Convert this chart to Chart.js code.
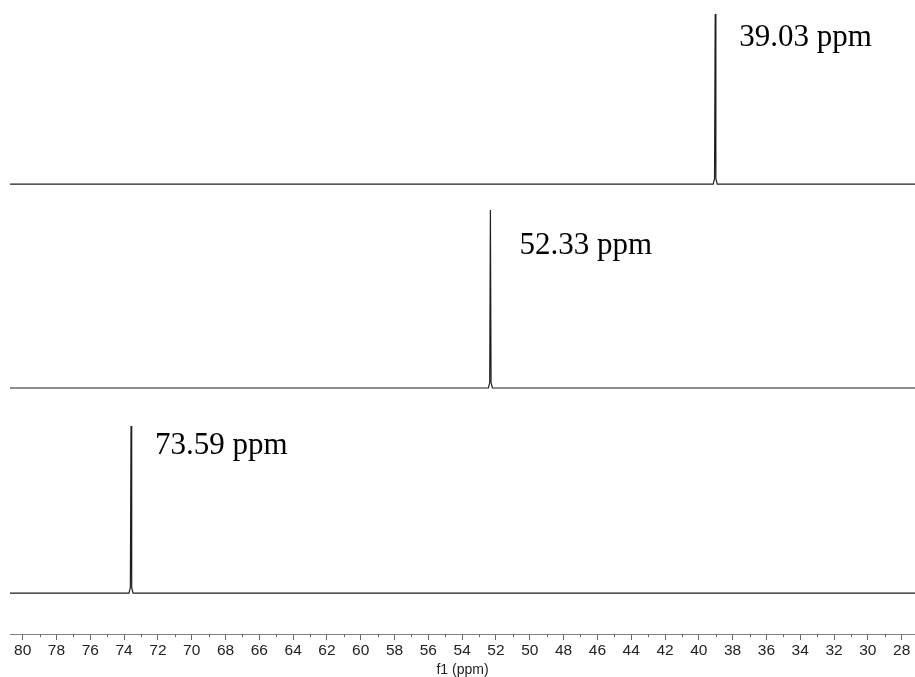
<!DOCTYPE html>
<html>
<head>
<meta charset="utf-8">
<title>13C NMR stack</title>
<script src="https://cdn.jsdelivr.net/npm/chart.js@4.4.1/dist/chart.umd.min.js"></script>
<style>
  html, body { margin: 0; padding: 0; background: #fff; }
  #wrap { width: 915px; height: 677px; position: relative; }
</style>
</head>
<body>
<div id="wrap"><canvas id="nmrChart"></canvas></div>
<script>
/* DATA */
const peakPpm = [39.03, 52.33, 73.59];
const peakLabels = ['39.03 ppm', '52.33 ppm', '73.59 ppm'];

// spectrum traces (ppm / relative intensity)
const topPpm = [80.75, 39.15, 39.07, 39.03, 38.99, 38.91, 27.21];
const topInt = [0, 0, 0.03, 0.955, 0.03, 0, 0];
const midPpm = [80.75, 52.45, 52.37, 52.33, 52.29, 52.21, 27.21];
const midInt = [0, 0, 0.03, 1.0, 0.03, 0, 0];
const botPpm = [80.75, 73.71, 73.63, 73.59, 73.55, 73.47, 27.21];
const botInt = [0, 0, 0.03, 0.938, 0.03, 0, 0];

const tickValues = [80, 78, 76, 74, 72, 70, 68, 66, 64, 62, 60, 58, 56, 54,
  52, 50, 48, 46, 44, 42, 40, 38, 36, 34, 32, 30, 28];
const axisTitle = 'f1 (ppm)';

const toPoints = (xs, ys) => xs.map((x, i) => ({ x: x, y: ys[i] }));

/* PLUGINS */
const peakLabelPlugin = {
  id: 'peakLabels',
  afterDatasetsDraw(chart, args, opts) {
    const { ctx } = chart;
    const xScale = chart.scales.x;
    ctx.save();
    ctx.font = '31px "Liberation Serif", "Times New Roman", serif';
    ctx.fillStyle = '#000';
    ctx.textBaseline = 'alphabetic';
    chart.data.datasets.forEach((ds, i) => {
      const yScale = chart.scales[ds.yAxisID];
      const top = Math.max(...ds.data.map(p => p.y));
      const px = xScale.getPixelForValue(peakPpm[i]);
      const py = yScale.getPixelForValue(top);
      const nudge = opts.nudge[i];
      ctx.fillText(peakLabels[i], px + nudge[0], py + nudge[1]);
    });
    ctx.restore();
  },
};

// short minor ticks at the odd ppm values
const minorTickPlugin = {
  id: 'minorTicks',
  afterDraw(chart, args, opts) {
    const { ctx } = chart;
    const x = chart.scales.x;
    const y0 = chart.chartArea.bottom;
    ctx.save();
    ctx.strokeStyle = opts.color;
    ctx.lineWidth = 1;
    ctx.beginPath();
    for (let v = Math.ceil(x.min); v <= x.max; v++) {
      if (v % 2 === 0) continue;
      const px = Math.round(x.getPixelForValue(v)) + 0.5;
      ctx.moveTo(px, y0);
      ctx.lineTo(px, y0 + opts.length);
    }
    ctx.stroke();
    ctx.restore();
  },
};

const hiddenY = (min, max) => ({ type: 'linear', display: false, min: min, max: max });
const axisFont = '"Liberation Sans", Arial, sans-serif';

new Chart(document.getElementById('nmrChart'), {
  type: 'line',
  data: {
    datasets: [
      { data: toPoints(topPpm, topInt), yAxisID: 'yTop' },
      { data: toPoints(midPpm, midInt), yAxisID: 'yMid' },
      { data: toPoints(botPpm, botInt), yAxisID: 'yBot' },
    ],
  },
  options: {
    responsive: true,
    maintainAspectRatio: false,
    animation: false,
    layout: { padding: { left: 10, right: 0, top: 0, bottom: 0 } },
    elements: {
      line: { borderColor: '#1e1e1e', borderWidth: 1.2, tension: 0 },
      point: { radius: 0 },
    },
    plugins: {
      legend: { display: false },
      tooltip: { enabled: false },
      peakLabels: { nudge: [[24, 32], [29, 44], [24, 28]] },
      minorTicks: { color: '#666', length: 3 },
    },
    scales: {
      x: {
        type: 'linear',
        reverse: true,
        min: 27.21,
        max: 80.75,
        afterBuildTicks: (scale) => {
          scale.ticks = tickValues.map(v => ({ value: v }));
        },
        border: { display: true, color: '#808080', width: 1 },
        grid: { drawOnChartArea: false, drawTicks: true, tickLength: 6, tickColor: '#666' },
        ticks: {
          maxRotation: 0,
          autoSkip: false,
          padding: 3,
          color: '#222',
          font: { family: axisFont, size: 15.5, lineHeight: 1 },
        },
        title: {
          display: true,
          text: axisTitle,
          color: '#222',
          padding: { top: 1.5, bottom: 0 },
          font: { family: axisFont, size: 14, lineHeight: 1 },
        },
      },
      yTop: hiddenY(-2.528, 1.034),
      yMid: hiddenY(-1.382, 2.180),
      yBot: hiddenY(-0.230, 3.331),
    },
  },
  plugins: [peakLabelPlugin, minorTickPlugin],
});
</script>
</body>
</html>
